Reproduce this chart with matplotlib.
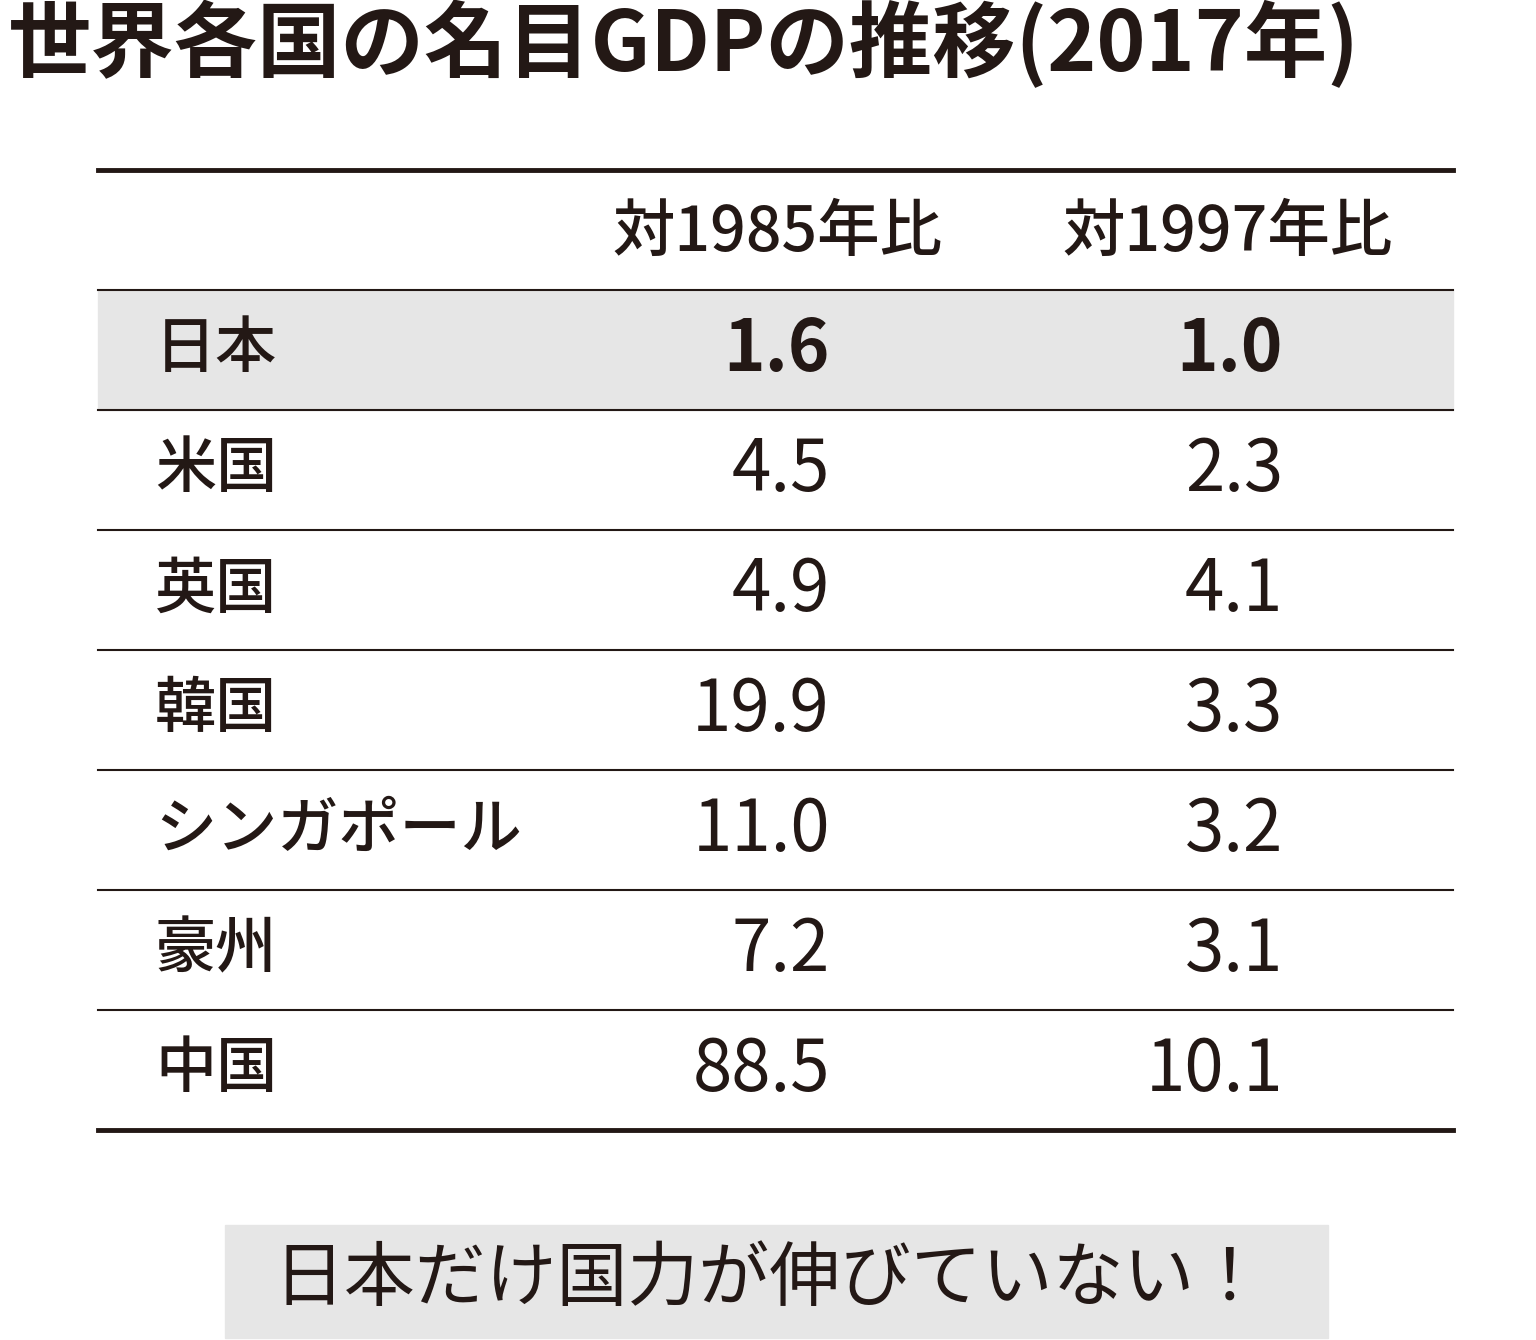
import matplotlib
matplotlib.use("Agg")
import matplotlib.pyplot as plt
from matplotlib.patches import Rectangle

plt.rcParams["font.family"] = "Noto Sans CJK JP"

title = "世界各国の名目GDPの推移(2017年)"
headers = ["対1985年比", "対1997年比"]
countries = ["日本", "米国", "英国", "韓国", "シンガポール", "豪州", "中国"]
vs1985 = [1.6, 4.5, 4.9, 19.9, 11.0, 7.2, 88.5]
vs1997 = [1.0, 2.3, 4.1, 3.3, 3.2, 3.1, 10.1]
note = "日本だけ国力が伸びていない！"

W, H = 1536, 1340
fig = plt.figure(figsize=(W / 100, H / 100), dpi=100)
ax = fig.add_axes([0, 0, 1, 1])
ax.set_xlim(0, W)
ax.set_ylim(H, 0)
ax.axis("off")

ink = "#231815"
ax.text(8, 45, title, fontsize=60, fontweight="bold", color=ink, va="center", ha="left")

x0, x1 = 98, 1453
top, head_bot, row_h = 170, 290, 120
ax.plot([x0, x1], [top, top], color=ink, lw=3.5)
ax.text(777, 233, headers[0], fontsize=45, fontweight="medium", color=ink, ha="center", va="center")
ax.text(1228, 233, headers[1], fontsize=45, fontweight="medium", color=ink, ha="center", va="center")
ax.plot([x0, x1], [head_bot, head_bot], color=ink, lw=1.5)

for i, c in enumerate(countries):
    y0 = head_bot + i * row_h
    yc = y0 + row_h / 2
    if i == 0:
        ax.add_patch(Rectangle((x0, y0), x1 - x0, row_h, color="#e6e6e6", zorder=0))
    wt = "bold" if i == 0 else "normal"
    ax.text(155, yc, c, fontsize=44, fontweight="medium", color=ink, ha="left", va="center")
    ax.text(830, yc, f"{vs1985[i]:.1f}", fontsize=51, fontweight=wt, color=ink, ha="right", va="center")
    ax.text(1283, yc, f"{vs1997[i]:.1f}", fontsize=51, fontweight=wt, color=ink, ha="right", va="center")
    yb = y0 + row_h
    last = i == len(countries) - 1
    ax.plot([x0, x1], [yb, yb], color=ink, lw=3.5 if last else 1.5)

ax.add_patch(Rectangle((225, 1225), 1103, 113, color="#e6e6e6", zorder=0))
ax.text(770, 1280, note, fontsize=51, color=ink, ha="center", va="center")

fig.savefig("out.png", dpi=100)
